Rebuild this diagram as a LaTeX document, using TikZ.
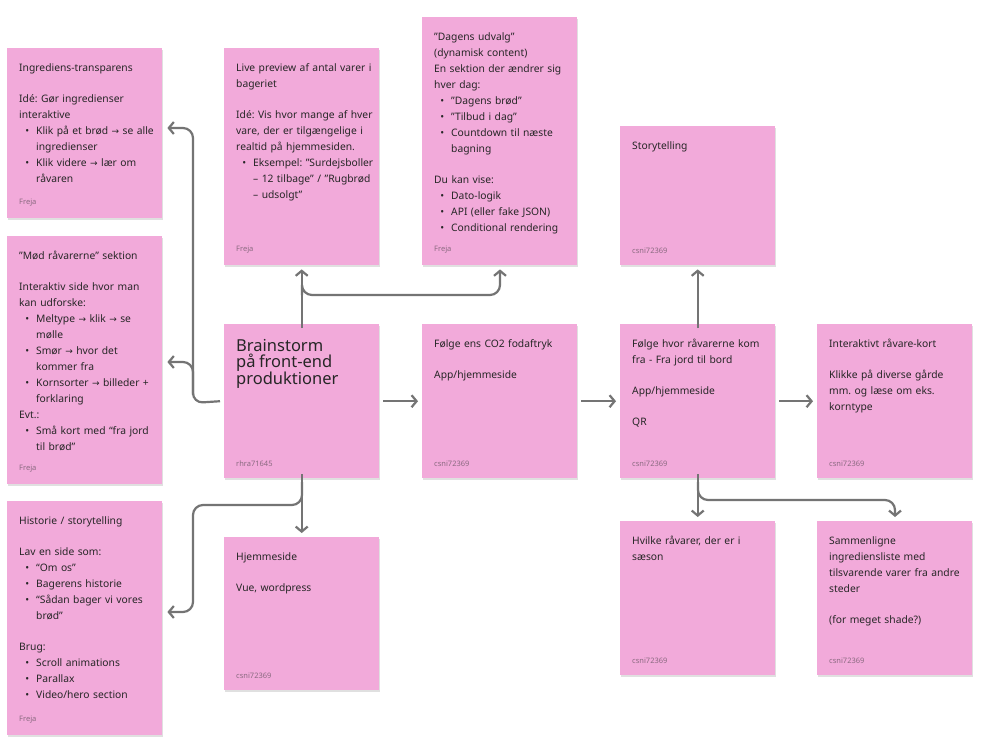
\documentclass[tikz,border=0pt]{standalone}
\usepackage{fontspec}
\setmainfont{Noto Sans}
\newfontfamily\symfont{DejaVu Sans}
\newcommand{\arr}{{\symfont\fontsize{9}{9}\selectfont →}}
\usepackage{enumitem}
\usetikzlibrary{arrows.meta,positioning,shadows}
\definecolor{stickyfill}{HTML}{F2AADA}
\definecolor{linkgray}{HTML}{747474}
\definecolor{authorgray}{HTML}{8A6A80}
\setlist[itemize]{label=\textbullet,leftmargin=17pt,labelsep=7pt,topsep=0pt,itemsep=0pt,parsep=0pt,partopsep=0pt}
\tikzset{
  sticky/.style={draw=none,fill=stickyfill,minimum width=155pt,anchor=north west,inner sep=0pt,
    drop shadow={shadow xshift=1pt,shadow yshift=-1.5pt,fill=black,opacity=0.12}},
  note/.style={anchor=north west,inner sep=0pt,text width=138pt,align=left,
    font=\fontsize{10.3}{16}\selectfont,text=black!85},
  author/.style={anchor=south west,inner sep=0pt,font=\fontsize{7.5}{9}\selectfont,text=authorgray},
  link/.style={draw=linkgray,line width=2.2pt,rounded corners=10pt,-{Straight Barb[length=5pt,width=12pt,line width=2.2pt]}}
}
\newcommand{\stick}[7]{%
  \node[sticky,minimum height=#4pt] (#1) at (#2,#3) {};
  \node[note] (#1-text) at ([xshift=12pt,yshift=-15pt]#1.north west) {#5};
  \node[author] (#1-by) at ([xshift=12pt,yshift=#7pt]#1.south west) {#6};}
\begin{document}
\hyphenpenalty=10000
\exhyphenpenalty=10000
\frenchspacing
\begin{tikzpicture}[x=1pt,y=-1pt]
\useasboundingbox (0,0) rectangle (984,736);
\fill[white] (0,0) rectangle (984,736);
% left column
\stick{ingr}{7}{48}{170}{Ingrediens-transparens\\[15pt]Idé: Gør ingredienser interaktive
  \begin{itemize}\item Klik på et brød \arr{} se alle ingredienser \item Klik videre \arr{} lær om råvaren\end{itemize}}{Freja}{12}
\stick{raa}{7}{236}{248}{"Mød råvarerne" sektion\\[15pt]Interaktiv side hvor man kan udforske:
  \begin{itemize}\item Meltype \arr{} klik \arr{} se mølle \item Smør \arr{} hvor det kommer fra \item Kornsorter \arr{} billeder + forklaring\end{itemize}
  Evt.:\begin{itemize}\item Små kort med “fra jord til brød”\end{itemize}}{Freja}{12}
\stick{hist}{7}{501}{234}{Historie / storytelling\\[15pt]Lav en side som:
  \begin{itemize}\item “Om os” \item Bagerens historie \item “Sådan bager vi vores brød”\end{itemize}
  \vspace{15pt}Brug:\begin{itemize}\item Scroll animations \item Parallax \item Video/hero section\end{itemize}}{Freja}{12}
% middle column
\stick{live}{224}{48}{217}{Live preview af antal varer i bageriet\\[15pt]Idé: Vis hvor mange af hver vare, der er tilgængelige i realtid på hjemmesiden.
  \begin{itemize}\item Eksempel: "Surdejsboller – 12 tilbage" / "Rugbrød – udsolgt"\end{itemize}}{Freja}{12}
\stick{brain}{224}{324}{154}{\fontsize{16.5}{28}\selectfont Brainstorm på front-end produktioner}{rhra71645}{12}
\stick{hjem}{224}{537}{153}{Hjemmeside\\[15pt]Vue, wordpress}{csni72369}{12}
\stick{dag}{422}{17}{248}{"Dagens udvalg"\\(dynamisk content)\\En sektion der ændrer sig hver dag:
  \begin{itemize}\item "Dagens brød" \item "Tilbud i dag" \item Countdown til næste bagning\end{itemize}
  \vspace{15pt}Du kan vise:\begin{itemize}\item Dato-logik \item API (eller fake JSON) \item Conditional rendering\end{itemize}}{Freja}{12}
\stick{co2}{422}{324}{154}{Følge ens CO2 fodaftryk\\[15pt]App/hjemmeside}{csni72369}{12}
% right columns
\stick{story}{620}{126}{139}{Storytelling}{csni72369}{12}
\stick{jord}{620}{324}{154}{Følge hvor råvarerne kom fra - Fra jord til bord\\[15pt]App/hjemmeside\\[15pt]QR}{csni72369}{12}
\stick{kort}{817}{324}{154}{Interaktivt råvare-kort\\[15pt]Klikke på diverse gårde mm. og læse om eks. korntype}{csni72369}{12}
\stick{saeson}{620}{521}{154}{Hvilke råvarer, der er i sæson}{csni72369}{12}
\stick{samm}{817}{521}{154}{Sammenligne ingrediensliste med tilsvarende varer fra andre steder\\[15pt](for meget shade?)}{csni72369}{12}
% connectors
\coordinate (lsplit) at (193,403);
\draw[link] ([xshift=-4pt]brain.west) -- (lsplit) -- (193,128) -- ([xshift=5pt]ingr.east |- 0,128);
\draw[link] (193,395) |- ([xshift=5pt]raa.east |- 0,362);
\draw[link] ([yshift=-4pt]brain.north) -- ([yshift=-4pt]live.south);
\draw[link] (302,295) |- (500,295) -- ([yshift=-4pt]dag.south -| 500,0);
\draw[link] ([yshift=4pt]brain.south) -- ([yshift=4pt]hjem.north);
\draw[link] (302,482) |- (193,505) |- ([xshift=5pt]hist.east |- 0,612);
\draw[link] ([xshift=4pt]brain.east) -- ([xshift=-4pt]co2.west);
\draw[link] ([xshift=4pt]co2.east) -- ([xshift=-4pt]jord.west);
\draw[link] ([xshift=4pt]jord.east) -- ([xshift=-4pt]kort.west);
\draw[link] ([yshift=-4pt]jord.north) -- ([yshift=-4pt]story.south);
\draw[link] ([yshift=4pt]jord.south) -- ([yshift=4pt]saeson.north);
\draw[link] (698,482) |- (895,500) -- ([yshift=4pt]samm.north -| 895,0);
\end{tikzpicture}
\end{document}
